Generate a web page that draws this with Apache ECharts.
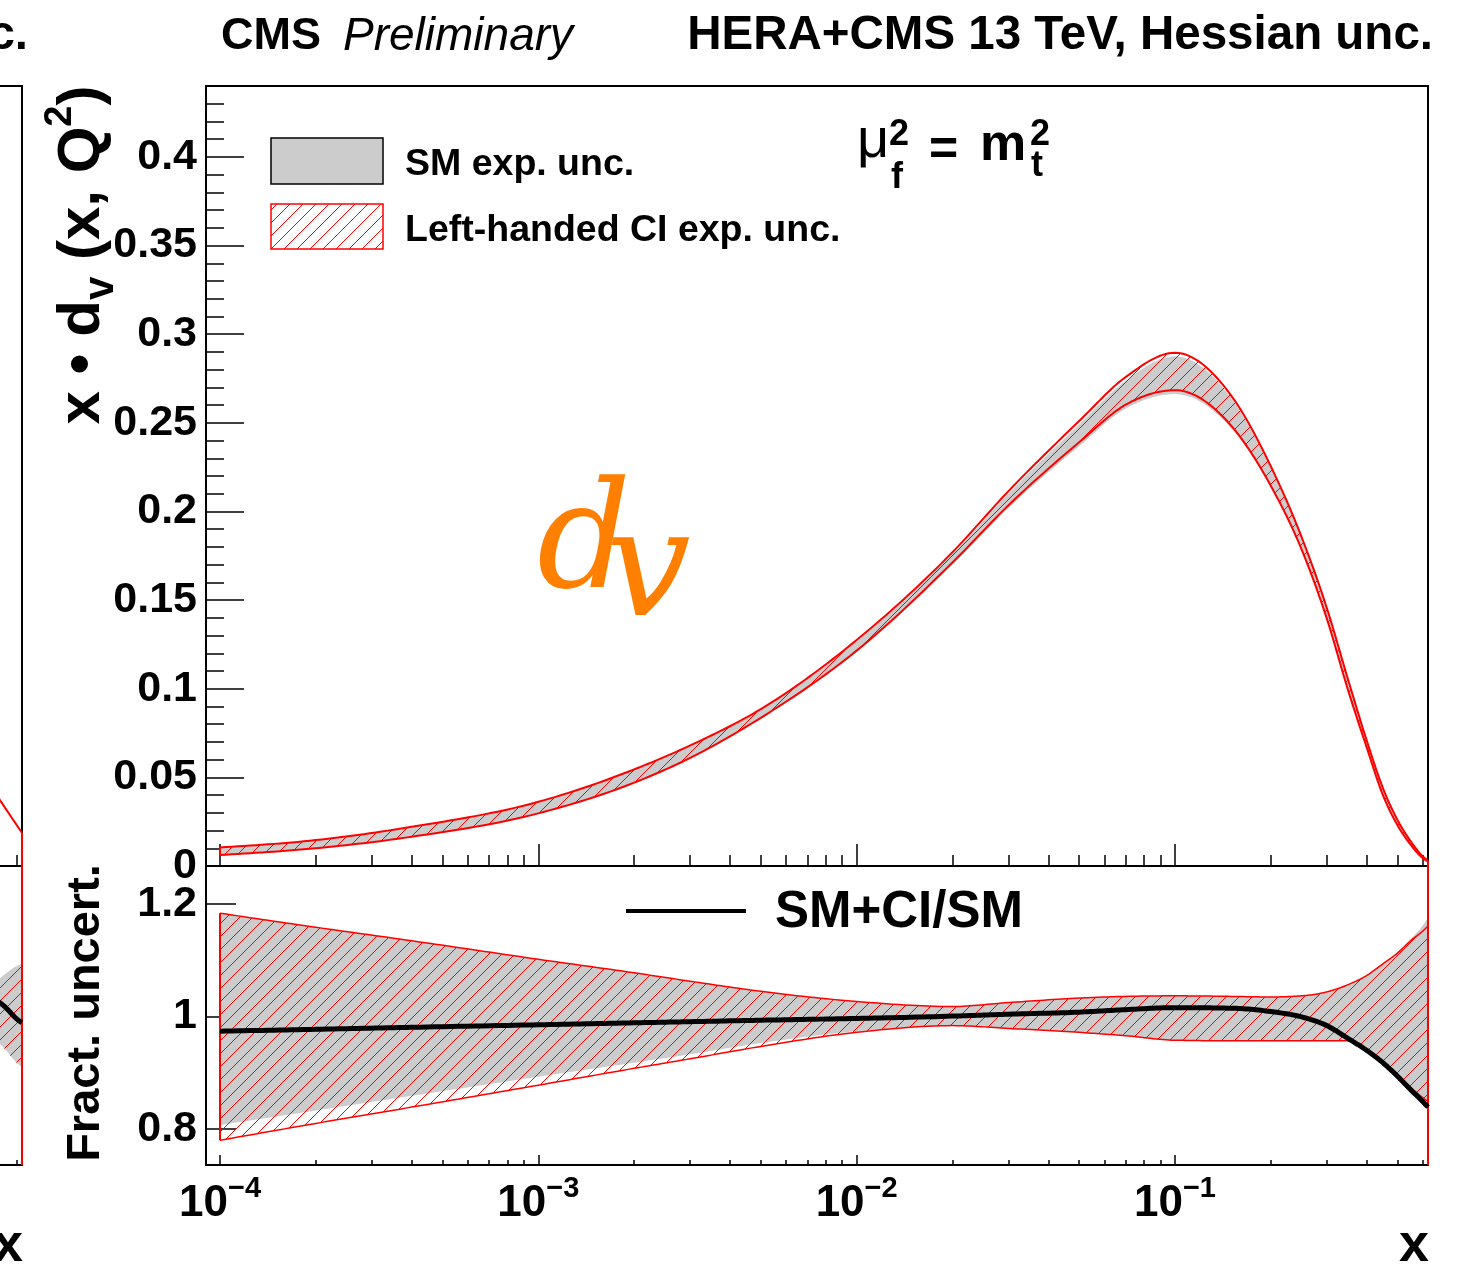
<!DOCTYPE html>
<html><head><meta charset="utf-8">
<script src="https://cdn.jsdelivr.net/npm/echarts@6/dist/echarts.min.js"></script>
<style>html,body{margin:0;padding:0;background:#fff}#c{width:1459px;height:1267px}</style>
</head><body><div id="c"></div><script>
// ---------------- data ----------------
const xPts   = [1e-4, 2e-4, 4e-4, 1e-3, 2e-3, 3e-3, 5e-3, 0.01, 0.02, 0.03, 0.05, 0.07, 0.1, 0.15, 0.2, 0.25, 0.3, 0.35, 0.4, 0.45, 0.5, 0.55, 0.6, 0.6235];
// x*dv, left-handed CI band
const ciHi   = [0.0105, 0.0146, 0.0221, 0.0362, 0.0545, 0.0680, 0.0885, 0.1275, 0.1770, 0.2115, 0.2510, 0.2758, 0.2895, 0.2655, 0.2255, 0.1855, 0.1455, 0.1050, 0.0710, 0.0440, 0.0260, 0.0140, 0.0055, 0.0030];
const ciLo   = [0.0062, 0.0100, 0.0165, 0.0297, 0.0470, 0.0610, 0.0836, 0.1215, 0.1712, 0.2035, 0.2390, 0.2602, 0.2684, 0.2485, 0.2145, 0.1785, 0.1395, 0.0990, 0.0670, 0.0400, 0.0230, 0.0120, 0.0045, 0.0025];
// x*dv, SM band
const smHi   = [0.0104, 0.0145, 0.0220, 0.0360, 0.0542, 0.0676, 0.0880, 0.1267, 0.1758, 0.2100, 0.2490, 0.2738, 0.2875, 0.2640, 0.2245, 0.1853, 0.1453, 0.1049, 0.0709, 0.0440, 0.0260, 0.0140, 0.0056, 0.0031];
const smLo   = [0.0063, 0.0100, 0.0165, 0.0296, 0.0468, 0.0607, 0.0832, 0.1209, 0.1700, 0.2020, 0.2368, 0.2580, 0.2662, 0.2470, 0.2135, 0.1783, 0.1393, 0.0990, 0.0670, 0.0400, 0.0229, 0.0119, 0.0044, 0.0024];
// fractional uncertainties
const ratCiHi = [1.184, 1.159, 1.135, 1.102, 1.078, 1.063, 1.045, 1.027, 1.018, 1.025, 1.033, 1.036, 1.037, 1.036, 1.035, 1.037, 1.044, 1.057, 1.073, 1.094, 1.113, 1.135, 1.152, 1.161];
const ratCiLo = [0.780, 0.810, 0.839, 0.878, 0.908, 0.925, 0.947, 0.972, 0.984, 0.979, 0.972, 0.966, 0.958, 0.957, 0.957, 0.957, 0.957, 0.957, 0.938, 0.918, 0.896, 0.874, 0.856, 0.849];
const ratSmHi = [1.184, 1.159, 1.135, 1.102, 1.078, 1.063, 1.045, 1.027, 1.018, 1.025, 1.033, 1.036, 1.037, 1.036, 1.035, 1.037, 1.044, 1.057, 1.073, 1.094, 1.114, 1.138, 1.162, 1.176];
const ratSmLo = [0.807, 0.833, 0.859, 0.893, 0.918, 0.933, 0.953, 0.974, 0.984, 0.979, 0.972, 0.966, 0.958, 0.957, 0.957, 0.957, 0.957, 0.957, 0.938, 0.918, 0.896, 0.874, 0.856, 0.849];
const ratSmCi = [0.974, 0.9775, 0.981, 0.9855, 0.989, 0.991, 0.9936, 0.9968, 1.0009, 1.0044, 1.008, 1.0124, 1.016, 1.015, 1.009, 0.9995, 0.984, 0.961, 0.940, 0.918, 0.894, 0.870, 0.849, 0.839];
// neighbouring (cropped) panel on the left
const nbX     = [0.5, 0.55, 0.6, 0.6235];
const nbHi    = [0.0445, 0.0332, 0.0231, 0.0186];
const nbRatHi = [1.055, 1.075, 1.090, 1.094];
const nbRatLo = [0.965, 0.943, 0.918, 0.910];
const nbRatC  = [1.035, 1.018, 0.996, 0.989];
// ticks
const xMajor = [1e-4, 1e-3, 1e-2, 1e-1];
const yTicks = [0, 0.05, 0.1, 0.15, 0.2, 0.25, 0.3, 0.35, 0.4];
const ratTicks = [0.8, 1, 1.2];

// ---------------- helpers ----------------
const L = v => Math.log10(v);
const X_LMIN = -4.044, X_LMAX = -0.2051;
const Y_MAX = 0.44, R_MIN = 0.736, R_MAX = 1.268;
const FONT = "'Liberation Sans', Arial, Helvetica, sans-serif";
const SERIF = "'DejaVu Serif', 'Liberation Serif', serif";
const xMinor = [];
[-4, -3, -2, -1].forEach(d => { for (let k = 2; k <= 9; k++) { const v = k * Math.pow(10, d); if (v <= 0.6235) xMinor.push(v); } });
const yMinor = [];
for (let i = 1; i <= 43; i++) if (i % 5) yMinor.push(i / 100);

function makeHatch(size, color, lw) {
  const c = document.createElement('canvas'); c.width = size; c.height = size;
  const g = c.getContext('2d'); g.strokeStyle = color; g.lineWidth = lw;
  g.beginPath();
  g.moveTo(0, size); g.lineTo(size, 0);
  g.moveTo(-size / 2, size / 2); g.lineTo(size / 2, -size / 2);
  g.moveTo(size / 2, size * 1.5); g.lineTo(size * 1.5, size / 2);
  g.stroke();
  return c;
}
const hatch = { image: makeHatch(13, '#ff0000', 1), repeat: 'repeat' };

// monotone cubic (x-monotone) through pixel points, sampled for drawing
function smoothPts(P) {
  const n = P.length;
  if (n < 3) return P.slice();
  const h = [], s = [], t = new Array(n);
  for (let i = 0; i < n - 1; i++) { h[i] = P[i + 1][0] - P[i][0]; s[i] = (P[i + 1][1] - P[i][1]) / h[i]; }
  for (let i = 1; i < n - 1; i++) {
    const p = (s[i - 1] * h[i] + s[i] * h[i - 1]) / (h[i - 1] + h[i]);
    t[i] = (Math.sign(s[i - 1]) + Math.sign(s[i])) * Math.min(Math.abs(s[i - 1]), Math.abs(s[i]), 0.5 * Math.abs(p)) || 0;
  }
  t[0] = (3 * s[0] - t[1]) / 2;
  t[n - 1] = (3 * s[n - 2] - t[n - 2]) / 2;
  const out = [P[0]];
  for (let i = 0; i < n - 1; i++) {
    const d = h[i] / 3;
    const p0 = P[i], p1 = P[i + 1];
    const c1 = [p0[0] + d, p0[1] + d * t[i]], c2 = [p1[0] - d, p1[1] - d * t[i + 1]];
    const steps = 16;
    for (let k = 1; k <= steps; k++) {
      const u = k / steps, a = (1 - u) * (1 - u) * (1 - u), b = 3 * (1 - u) * (1 - u) * u, c = 3 * (1 - u) * u * u, e = u * u * u;
      out.push([a * p0[0] + b * c1[0] + c * c2[0] + e * p1[0], a * p0[1] + b * c1[1] + c * c2[1] + e * p1[1]]);
    }
  }
  return out;
}
function curve(api, xs, ys) { return smoothPts(xs.map((x, i) => api.coord([L(x), ys[i]]))); }
function bandPoly(api, xs, hi, lo, fill) {
  const up = curve(api, xs, hi), dn = curve(api, xs, lo).reverse();
  return { type: 'polygon', shape: { points: up.concat(dn) }, style: { fill: fill, stroke: null } };
}
function polyline(pts, color, width) {
  return { type: 'polyline', shape: { points: pts }, style: { fill: null, stroke: color, lineWidth: width, lineJoin: 'round' } };
}
function vline(api, x, y0, y1, color, width) {
  const a = api.coord([L(x), y0]), b = api.coord([L(x), y1]);
  return { type: 'line', shape: { x1: a[0], y1: a[1], x2: b[0], y2: b[1] }, style: { stroke: color, lineWidth: width } };
}
function panel(xi, yi, x0, y0, build) {
  return {
    type: 'custom', coordinateSystem: 'cartesian2d', xAxisIndex: xi, yAxisIndex: yi,
    clip: false, silent: true, animation: false, z: 3,
    data: [[L(x0), y0]],
    renderItem: (params, api) => ({ type: 'group', children: build(api) })
  };
}

// ---------------- grids & axes ----------------
const UP = { top: 86, height: 780 }, LO = { top: 866, height: 299 };
const MAINL = 206, NBL = -1200, W = 1222;
const gb = { outerBoundsMode: 'none', containLabel: false };
const grids = [
  { ...gb, left: MAINL, width: W, ...UP, show: true, borderColor: '#000', borderWidth: 2 },
  { ...gb, left: MAINL, width: W, ...UP, show: false },
  { ...gb, left: MAINL, width: W, ...LO, show: true, borderColor: '#000', borderWidth: 2 },
  { ...gb, left: MAINL, width: W, ...LO, show: false },
  { ...gb, left: NBL, width: W, ...UP, show: true, borderColor: '#000', borderWidth: 2 },
  { ...gb, left: NBL, width: W, ...UP, show: false },
  { ...gb, left: NBL, width: W, ...LO, show: true, borderColor: '#000', borderWidth: 2 },
  { ...gb, left: NBL, width: W, ...LO, show: false }
];
const tickLine = { color: '#000', width: 1.5 };
function xAx(gi, vals, len, withLabels) {
  const ax = {
    type: 'value', gridIndex: gi, min: X_LMIN, max: X_LMAX, position: 'bottom',
    axisLine: { show: false }, splitLine: { show: false },
    axisTick: { show: true, inside: true, length: len, customValues: vals.map(L), lineStyle: tickLine },
    axisLabel: { show: false }
  };
  if (withLabels) {
    ax.axisLabel = {
      show: true, customValues: vals.map(L), margin: 9, color: '#000',
      formatter: v => '{b|10}{s|\u2212' + Math.round(-v) + '}',
      rich: {
        b: { fontFamily: FONT, fontWeight: 'bold', fontSize: 44, lineHeight: 52, verticalAlign: 'bottom', color: '#000' },
        s: { fontFamily: FONT, fontWeight: 'bold', fontSize: 29, lineHeight: 29, verticalAlign: 'top', color: '#000' }
      }
    };
  }
  return ax;
}
function yAx(gi, min, max, vals, len, withLabels) {
  const ax = {
    type: 'value', gridIndex: gi, min: min, max: max, position: 'left',
    axisLine: { show: false }, splitLine: { show: false },
    axisTick: vals ? { show: true, inside: true, length: len, customValues: vals, lineStyle: tickLine } : { show: false },
    axisLabel: { show: false }
  };
  if (withLabels) {
    ax.axisLabel = {
      show: true, customValues: vals, margin: 9, color: '#000',
      fontFamily: FONT, fontWeight: 'bold', fontSize: 43,
      formatter: v => String(+v.toFixed(2))
    };
  }
  return ax;
}
const xAxes = [
  xAx(0, xMajor, 22, false), xAx(1, xMinor, 11, false),
  xAx(2, xMajor, 10, true),  xAx(3, xMinor, 5, false),
  xAx(4, xMajor, 22, false), xAx(5, xMinor, 11, false),
  xAx(6, xMajor, 10, false), xAx(7, xMinor, 5, false)
];
const yAxes = [
  yAx(0, 0, Y_MAX, yTicks, 38, true), yAx(1, 0, Y_MAX, yMinor, 18, false),
  yAx(2, R_MIN, R_MAX, ratTicks, 30, true), yAx(3, R_MIN, R_MAX, null, 0, false),
  yAx(4, 0, Y_MAX, yTicks, 38, false), yAx(5, 0, Y_MAX, yMinor, 18, false),
  yAx(6, R_MIN, R_MAX, ratTicks, 30, false), yAx(7, R_MIN, R_MAX, null, 0, false)
];

// ---------------- series ----------------
const RED = '#ff0000', GRAY = '#cccccc';
const last = xPts.length - 1;
const series = [
  // main upper panel
  panel(0, 0, xPts[0], ciLo[0], api => [
    bandPoly(api, xPts, smHi, smLo, GRAY),
    bandPoly(api, xPts, ciHi, ciLo, hatch),
    polyline(curve(api, xPts, ciHi), RED, 2),
    polyline(curve(api, xPts, ciLo), RED, 2),
    vline(api, xPts[0], ciLo[0], ciHi[0], RED, 2),
    vline(api, xPts[last], 0, ciHi[last], RED, 2)
  ]),
  // main lower panel
  panel(2, 2, xPts[0], ratCiLo[0], api => [
    bandPoly(api, xPts, ratSmHi, ratSmLo, GRAY),
    bandPoly(api, xPts, ratCiHi, ratCiLo, hatch),
    polyline(curve(api, xPts, ratCiHi), RED, 1.5),
    polyline(curve(api, xPts, ratCiLo), RED, 1.5),
    vline(api, xPts[0], ratCiLo[0], ratCiHi[0], RED, 2),
    vline(api, xPts[last], R_MIN, R_MAX, RED, 2),
    polyline(curve(api, xPts, ratSmCi), '#000', 5)
  ]),
  // neighbouring panel, upper
  panel(4, 4, nbX[0], nbHi[0], api => [
    polyline(curve(api, nbX, nbHi), RED, 2),
    vline(api, nbX[3], 0, nbHi[3], RED, 2)
  ]),
  // neighbouring panel, lower
  panel(6, 6, nbX[0], nbRatLo[0], api => [
    bandPoly(api, nbX, nbRatHi, nbRatLo, GRAY),
    bandPoly(api, nbX, nbRatHi, nbRatLo, hatch),
    vline(api, nbX[3], R_MIN, R_MAX, RED, 2),
    polyline(curve(api, nbX, nbRatC), '#000', 5)
  ])
];

// ---------------- texts & legends ----------------
function T(text, x, y, font, opt) {
  opt = opt || {};
  const align = opt.align || 'left';
  return {
    type: 'text', x: x, y: y, rotation: opt.rotation || 0, z: 100, silent: true,
    style: Object.assign({ text: text, font: font, fill: opt.fill || '#000',
      align: align, textAlign: align, verticalAlign: 'middle', textVerticalAlign: 'middle' }, opt.style || {})
  };
}
const B = s => 'bold ' + s + 'px ' + FONT;
const graphic = [
  // header
  T('CMS', 221, 37, B(45)),
  T('Preliminary', 343, 37, 'italic 46px ' + FONT),
  T('HERA+CMS 13 TeV, Hessian unc.', 1433, 36, B(47.5), { align: 'right' }),
  T('HERA+CMS 13 TeV, Hessian unc.', 28, 36, B(47.5), { align: 'right' }),
  // y titles
  { type: 'text', x: 82, y: 255, rotation: Math.PI / 2, z: 100, silent: true,
    style: { text: '{m|x \u2022 d}{s|v}{m| (x, Q}{p|2}{m|)}', align: 'center', textAlign: 'center', verticalAlign: 'middle', textVerticalAlign: 'middle',
      rich: {
        m: { font: B(60), lineHeight: 80, verticalAlign: 'middle', fill: '#000', color: '#000' },
        s: { font: B(42), lineHeight: 24, verticalAlign: 'bottom', fill: '#000', color: '#000' },
        p: { font: B(38), lineHeight: 48, verticalAlign: 'top', fill: '#000', color: '#000' }
      } } },
  T('Fract. uncert.', 86, 1013, B(47), { rotation: Math.PI / 2, align: 'center' }),
  // x titles
  T('x', 1429, 1246, B(54), { align: 'right' }),
  T('x', 23, 1246, B(54), { align: 'right' }),
  // upper legend
  { type: 'rect', z: 100, silent: true, shape: { x: 271, y: 138, width: 112, height: 46 }, style: { fill: GRAY, stroke: '#000', lineWidth: 1.5 } },
  { type: 'rect', z: 100, silent: true, shape: { x: 271, y: 204, width: 112, height: 45 }, style: { fill: hatch, stroke: RED, lineWidth: 1.5 } },
  T('SM exp. unc.', 405, 165, B(37.5)),
  T('Left-handed CI exp. unc.', 405, 231, B(37.5)),
  // lower legend
  { type: 'line', z: 100, silent: true, shape: { x1: 626, y1: 911, x2: 746, y2: 911 }, style: { stroke: '#000', lineWidth: 4 } },
  T('SM+CI/SM', 775, 913, B(51)),
  // mu_f^2 = m_t^2
  T('\u03bc', 857, 142, 'normal 56px ' + FONT),
  T('2', 889, 135, B(36)),
  T('f', 891, 178, B(36)),
  T('=', 929, 151, B(50)),
  T('m', 980, 146, B(52)),
  T('2', 1030, 135, B(36)),
  T('t', 1031, 166, B(36)),
  // d_v label
  T('d', 537, 549, 'italic 147px ' + SERIF, { fill: '#ff8000' }),
  T('v', 606, 576, 'italic 150px ' + SERIF, { fill: '#ff8000' })
];

const chart = echarts.init(document.getElementById('c'), null, { renderer: 'canvas' });
chart.setOption({
  animation: false,
  backgroundColor: '#ffffff',
  grid: grids,
  xAxis: xAxes,
  yAxis: yAxes,
  series: series,
  graphic: graphic
});
</script></body></html>
